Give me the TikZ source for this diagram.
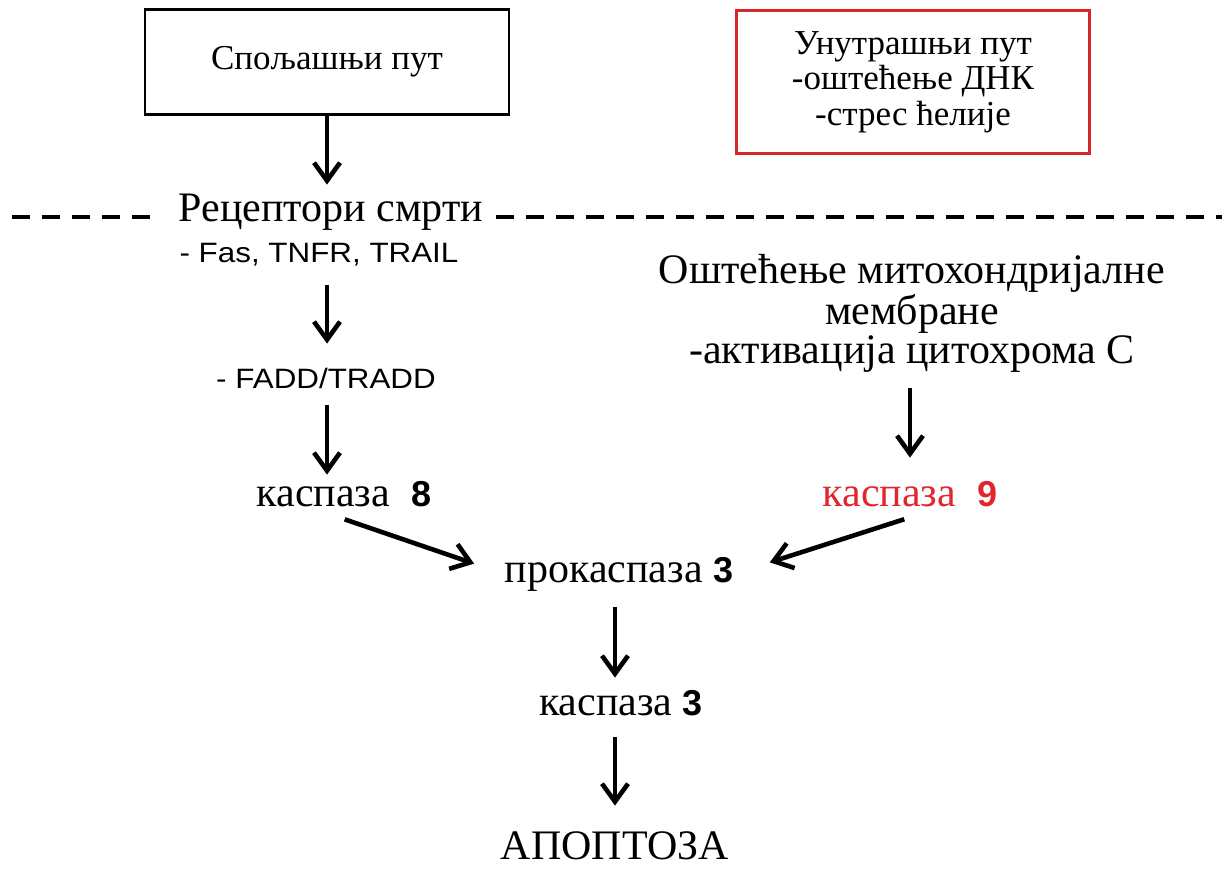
\documentclass[tikz,border=0pt]{standalone}
\usepackage{fontspec}
\setmainfont{Liberation Serif}
\setsansfont{Liberation Sans}
\newfontfamily\widesans[FakeStretch=1.12]{Liberation Sans}
\usetikzlibrary{arrows.meta,calc,positioning}
\definecolor{pathred}{RGB}{214,40,40}
\definecolor{caspred}{RGB}{226,38,45}
\newcommand{\casnum}[1]{{\sffamily\bfseries\fontsize{18}{20}\selectfont #1}}

\begin{document}
\begin{tikzpicture}[x=0.5pt, y=-0.5pt]
\tikzstyle{pathbox}=[draw, line width=1.2pt, rectangle, font=\fontsize{17.5}{17.75}\selectfont, align=center, minimum width=182pt, minimum height=52.5pt]
\tikzstyle{steptext}=[font=\fontsize{21}{19.5}\selectfont, inner sep=0pt, anchor=base, text height=14pt, text depth=5pt]
\tikzstyle{blocktext}=[font=\fontsize{21}{19.5}\selectfont, inner sep=0pt, align=center]
\tikzstyle{subtext}=[font=\widesans\fontsize{14}{18}\selectfont, inner sep=0pt, anchor=base, text height=10.5pt, text depth=3pt]
\tikzstyle{vecArrow}=[line width=2.3pt, -{Straight Barb[length=9pt, width=13pt]}]
\tikzstyle{sepline}=[line width=2pt, dash pattern=on 9pt off 6pt]
\useasboundingbox (0,0) rectangle (1222,871);

\node[pathbox] (extrinsic) at (327,62) {Спољашњи пут};
\node[pathbox, draw=pathred, line width=1.5pt, minimum width=176.5pt, minimum height=71.5pt] (intrinsic) at (913,82) {Унутрашњи пут\\-оштећење ДНК\\-стрес ћелије};
\node[steptext] (receptors) at (331,222) {Рецептори смрти};
\node[subtext] (ligands) at (319,263) {- Fas, TNFR, TRAIL};
\node[subtext] (fadd) at (326,389) {- FADD/TRADD};
\node[steptext] (casp8) at (344,507) {каспаза\enspace\casnum{8}};
\node[blocktext] (mito) at (912,313) {Оштећење митохондријалне\\мембране\\-активација цитохрома С};
\node[steptext, text=caspred] (casp9) at (910,507) {каспаза\enspace\casnum{9}};
\node[steptext] (procasp3) at (619,583) {прокаспаза \casnum{3}};
\node[steptext] (casp3) at (621,715) {каспаза \casnum{3}};
\node[steptext, text depth=0pt] (apoptosis) at (615,859) {АПОПТОЗА};

\draw[sepline] (12,217) -- (156,217);
\draw[sepline] (496,217) -- (1222,217);

\draw[vecArrow, shorten >=4.5pt] (extrinsic.south) -- (receptors.north -| extrinsic.south);
\draw[vecArrow, shorten <=8pt, shorten >=12pt] (ligands.south -| extrinsic.south) -- (fadd.north -| extrinsic.south);
\draw[vecArrow, shorten <=5pt, shorten >=2pt] (fadd.south -| extrinsic.south) -- (casp8.north -| extrinsic.south);
\draw[vecArrow, shorten <=8pt, shorten >=10.5pt] (mito.south -| casp9.north) -- (casp9.north);
\draw[vecArrow, shorten <=3pt, shorten >=16pt] ($(casp8.south)+(-5,0)$) -- (procasp3.west);
\draw[vecArrow, shorten <=3pt, shorten >=19pt] (casp9.south) -- (procasp3.east);
\draw[vecArrow, shorten <=7pt, shorten >=4.5pt] (procasp3.south -| apoptosis.north) -- (casp3.north -| apoptosis.north);
\draw[vecArrow, shorten <=6pt, shorten >=12.5pt] (casp3.south -| apoptosis.north) -- (apoptosis.north);

\end{tikzpicture}
\end{document}
